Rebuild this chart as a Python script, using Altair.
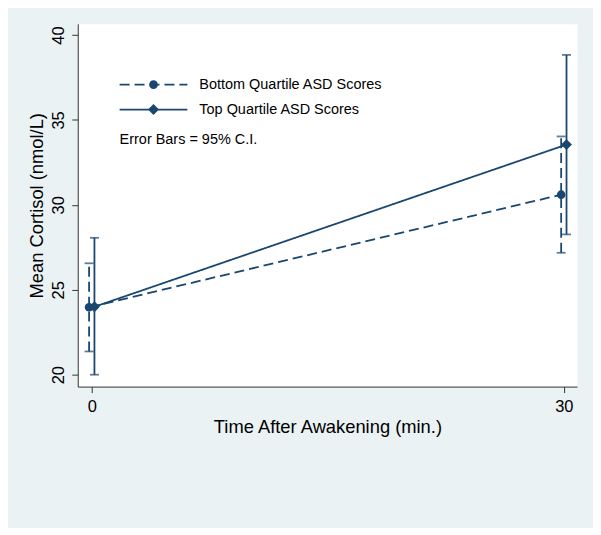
import altair as alt
import pandas as pd

# ---- data ----
times = [0, 30]
series = ["Bottom Quartile ASD Scores", "Top Quartile ASD Scores"]
bottom_mean = [23.97, 30.6]
bottom_lo = [21.37, 27.18]
bottom_hi = [26.56, 34.03]
top_mean = [24.0, 33.55]
top_lo = [20.0, 28.26]
top_hi = [28.06, 38.83]
x_ticks = [0, 30]
y_ticks = [20, 25, 30, 35, 40]
note = "Error Bars = 95% C.I."

NAVY = "#1a476f"
BG = "#eaf2f3"
FONT = "Liberation Sans"
dodge = {series[0]: -0.17, series[1]: 0.17}

rows = []
for name, m, lo, hi in [(series[0], bottom_mean, bottom_lo, bottom_hi),
                        (series[1], top_mean, top_lo, top_hi)]:
    for t, mv, l, h in zip(times, m, lo, hi):
        rows.append({"series": name, "time": t, "x": t + dodge[name],
                     "mean": mv, "lo": l, "hi": h})
df = pd.DataFrame(rows)

xscale = alt.Scale(domain=[-0.89, 30.84], nice=False, zero=False)
yscale = alt.Scale(domain=[19.3, 40.66], nice=False, zero=False)
dash_scale = alt.Scale(domain=series, range=[[10, 5], [1, 0]])
shape_scale = alt.Scale(domain=series, range=["circle", "diamond"])
size_scale = alt.Scale(domain=series, range=[75, 120])

xaxis = alt.Axis(values=x_ticks, title="Time After Awakening (min.)", grid=False,
                 tickSize=6, labelPadding=6, labelFontSize=16.5, titleFontSize=18.4,
                 titlePadding=3, domainColor="#333333", tickColor="#333333",
                 labelColor="#000000", titleColor="#000000", labelFont=FONT,
                 titleFont=FONT, titleFontWeight="normal", labelFlush=False)
yaxis = alt.Axis(values=y_ticks, title="Mean Cortisol (nmol/L)", grid=False,
                 tickSize=6, labelPadding=5, labelFontSize=16.5, titleFontSize=18.4,
                 labelAngle=270, labelAlign="center", labelBaseline="bottom",
                 titlePadding=4, domainColor="#333333", tickColor="#333333",
                 labelColor="#000000", titleColor="#000000", labelFont=FONT,
                 titleFont=FONT, titleFontWeight="normal", labelFlush=False)

base = alt.Chart(df)

lines = base.mark_line(color=NAVY, strokeWidth=1.8).encode(
    x=alt.X("x:Q", scale=xscale, axis=xaxis),
    y=alt.Y("mean:Q", scale=yscale, axis=yaxis),
    strokeDash=alt.StrokeDash("series:N", scale=dash_scale, legend=None),
    detail="series:N",
)

bars = base.mark_rule(color=NAVY, strokeWidth=1.8).encode(
    x="x:Q", y="lo:Q", y2="hi:Q",
    strokeDash=alt.StrokeDash("series:N", scale=dash_scale, legend=None),
)
caps_lo = base.mark_tick(color=NAVY, orient="horizontal", size=9, thickness=1.8).encode(
    x="x:Q", y="lo:Q")
caps_hi = base.mark_tick(color=NAVY, orient="horizontal", size=9, thickness=1.8).encode(
    x="x:Q", y="hi:Q")

points = base.mark_point(color=NAVY, filled=True, opacity=1).encode(
    x="x:Q", y="mean:Q",
    shape=alt.Shape("series:N", scale=shape_scale, legend=None),
    size=alt.Size("series:N", scale=size_scale, legend=None),
)

# ---- hand-drawn legend inside the plot ----
leg_rows = [(series[0], [10, 5], "circle", 75, 61),
            (series[1], [1, 0], "diamond", 120, 86)]
leg_layers = []
for name, dash, shp, sz, yy in leg_rows:
    src = alt.Chart(pd.DataFrame({"series": [name]}))
    leg_layers.append(src.mark_rule(color=NAVY, strokeWidth=1.8, strokeDash=dash).encode(
        x=alt.value(42), x2=alt.value(110), y=alt.value(yy)))
    leg_layers.append(src.mark_point(color=NAVY, filled=True, opacity=1, shape=shp, size=sz).encode(
        x=alt.value(76), y=alt.value(yy)))
    leg_layers.append(src.mark_text(align="left", baseline="middle", fontSize=14.5, font=FONT,
                                    color="#000000").encode(
        x=alt.value(122), y=alt.value(yy), text="series:N"))

note_txt = alt.Chart(pd.DataFrame({"t": [note]})).mark_text(
    align="left", baseline="middle", fontSize=14.5, font=FONT, color="#000000").encode(
    x=alt.value(42), y=alt.value(117), text="t:N")

chart = alt.layer(lines, bars, caps_lo, caps_hi, points, *leg_layers, note_txt).properties(
    width=501, height=364,
    autosize=alt.AutoSizeParams(type="none"),
    padding={"left": 70, "top": 15, "right": 16, "bottom": 141},
    background=BG,
).configure_view(fill="white", stroke="transparent")

chart.save("out.html", embed_options={"renderer": "svg", "actions": False})
